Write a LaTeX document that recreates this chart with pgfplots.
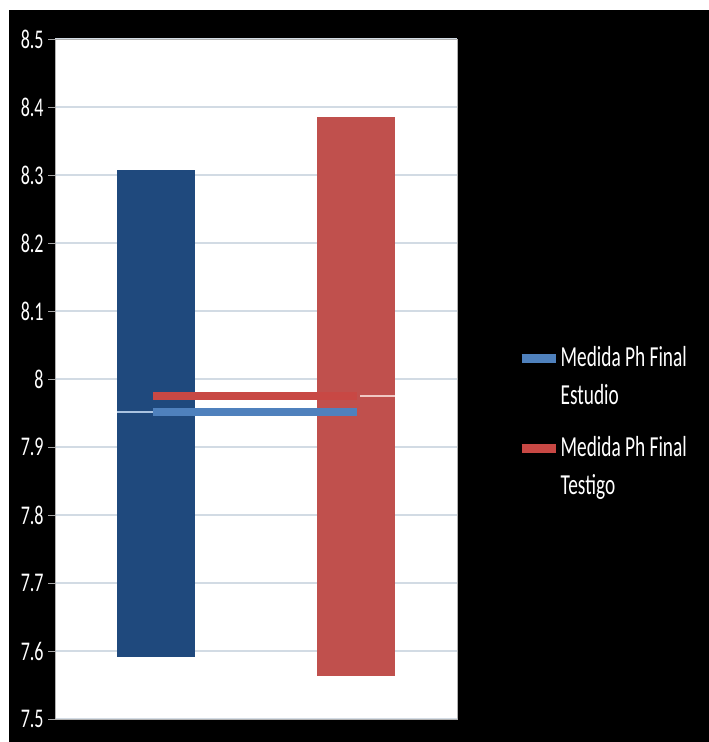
\documentclass[border=0pt]{standalone}
\usepackage{pgfplots}
\pgfplotsset{compat=1.18}
\usepackage{fontspec}
\setmainfont{Carlito}
\usepackage{graphicx}
\definecolor{barblue}{RGB}{31,73,125}
\definecolor{barred}{RGB}{192,80,77}
\definecolor{lineblue}{RGB}{79,129,189}
\definecolor{linered}{RGB}{200,72,68}
\definecolor{thinblue}{RGB}{170,195,225}
\definecolor{thinred}{RGB}{240,200,195}
\definecolor{gridc}{RGB}{210,219,228}
\newcommand\vs[1]{\scalebox{1}[1.5]{#1}}
\begin{document}
\begin{tikzpicture}
\fill[white] (0,0) rectangle (531.75pt,556.5pt);
\fill[black] (6.75pt,0) rectangle (531.75pt,549pt);
\begin{axis}[
  at={(41.25pt,17.25pt)}, anchor=south west,
  scale only axis, width=301.5pt, height=510pt,
  xmin=-0.5, xmax=1.5, ymin=7.5, ymax=8.5,
  axis background/.style={fill=white},
  xtick=\empty, ytick pos=left,
  ytick={7.5,7.6,7.7,7.8,7.9,8,8.1,8.2,8.3,8.4,8.5},
  yticklabels={\vs{7.5},\vs{7.6},\vs{7.7},\vs{7.8},\vs{7.9},\vs{8},\vs{8.1},\vs{8.2},\vs{8.3},\vs{8.4},\vs{8.5}},
  yticklabel style={font=\fontsize{13.5}{15}\selectfont, text=white},
  tick align=outside, major tick length=5pt,
  tick style={gray!70, line width=0.6pt},
  ymajorgrids, grid style={gridc, line width=0.8pt},
  axis line style={gray!60, line width=0.6pt},
  legend style={at={(1.1493,0.5588)}, anchor=north west, draw=none, fill=none,
    inner sep=0pt, font=\fontsize{14.5}{19}\selectfont, text=white, row sep=45pt,
    nodes={inner sep=0.5pt}},
  legend cell align=left,
  legend image code/.code={\draw[#1, line width=6.5pt] (0pt,-3pt) -- (25.5pt,-3pt);},
]
% floating bars (low to high)
\addplot[fill=barblue, draw=none, forget plot] coordinates {(-0.193,7.591) (0.195,7.591) (0.195,8.307) (-0.193,8.307)};
\addplot[fill=barred, draw=none, forget plot] coordinates {(0.8035,7.563) (1.1915,7.563) (1.1915,8.385) (0.8035,8.385)};
% thin segments
\addplot[thinblue, line width=1.5pt, forget plot] coordinates {(-0.193,7.951) (-0.012,7.951)};
\addplot[thinred, line width=1.5pt, forget plot] coordinates {(1.017,7.975) (1.1915,7.975)};
% mean lines
\addplot[lineblue, line width=6pt] coordinates {(-0.012,7.951) (1.0,7.951)};
\addlegendentry{\vs{\begin{tabular}[t]{@{}l@{}}Medida Ph Final\\Estudio\end{tabular}}}
\addplot[linered, line width=6pt] coordinates {(-0.012,7.975) (1.0,7.975)};
\addlegendentry{\vs{\begin{tabular}[t]{@{}l@{}}Medida Ph Final\\Testigo\end{tabular}}}
\end{axis}
\end{tikzpicture}
\end{document}
